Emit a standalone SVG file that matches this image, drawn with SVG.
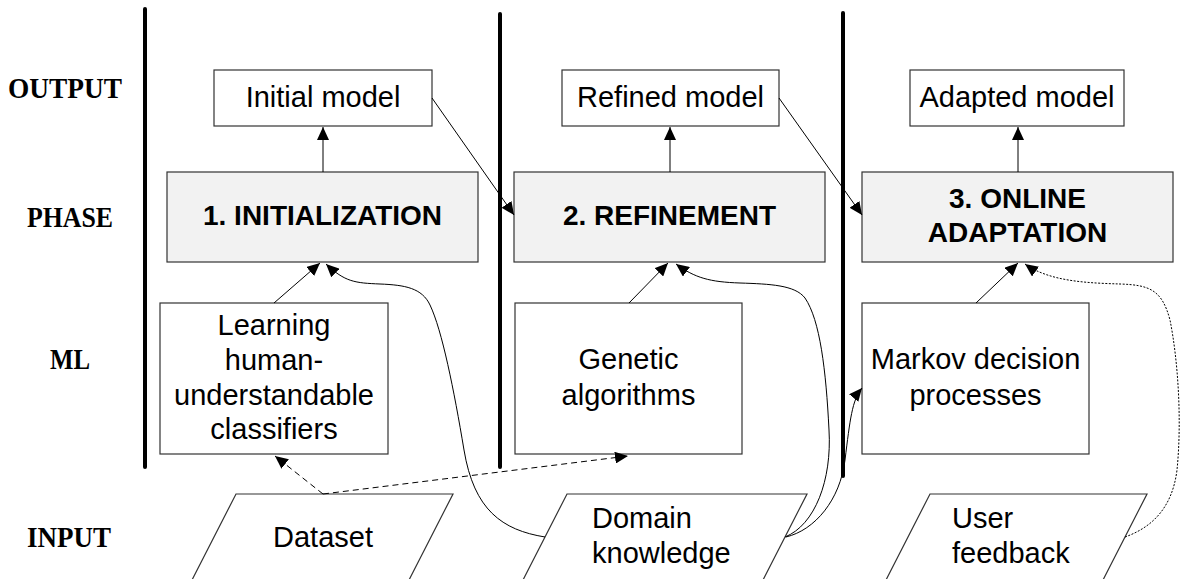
<svg xmlns="http://www.w3.org/2000/svg" width="1191" height="579" viewBox="0 0 1191 579">
<style>
.lane{font-family:"Liberation Serif",serif;font-weight:bold;font-size:29px;fill:#000;text-anchor:middle}
.t{font-family:"Liberation Sans",Arial,sans-serif;font-size:29px;fill:#000;text-anchor:middle}
.tl{font-family:"Liberation Sans",Arial,sans-serif;font-size:29px;fill:#000;text-anchor:start}
.b{font-family:"Liberation Sans",Arial,sans-serif;font-size:28px;font-weight:bold;fill:#000;text-anchor:middle}
.box{fill:#fff;stroke:#333;stroke-width:1.2}
.phase{fill:#f2f2f2;stroke:#333;stroke-width:1.2}
.sep{stroke:#000;stroke-width:4;stroke-linecap:round;fill:none}
.c{stroke:#000;stroke-width:1;fill:none}
.dash{stroke-dasharray:6,4}
.dot{stroke-dasharray:2,1.5}
</style>
<defs>
<marker id="ah" markerUnits="userSpaceOnUse" markerWidth="13" markerHeight="12" refX="13" refY="6" orient="auto" viewBox="0 0 13 12">
<path d="M0,0 L13,6 L0,12 z" fill="#000"/>
</marker>
</defs>
<rect width="1191" height="579" fill="#fff"/>

<g id="lanes">
<text class="lane" x="65" y="98" textLength="114" lengthAdjust="spacingAndGlyphs">OUTPUT</text>
<text class="lane" x="70" y="227" textLength="86" lengthAdjust="spacingAndGlyphs">PHASE</text>
<text class="lane" x="70" y="369" textLength="40" lengthAdjust="spacingAndGlyphs">ML</text>
<text class="lane" x="69" y="547" textLength="84" lengthAdjust="spacingAndGlyphs">INPUT</text>
<line class="sep" x1="145" y1="9" x2="145" y2="467"/>
<line class="sep" x1="500" y1="14" x2="500" y2="467"/>
<line class="sep" x1="843" y1="13" x2="843" y2="476"/>
</g>

<g id="input-dataset">
<path class="box" d="M192,580 L236,494 L453,494 L409,580"/>
<text class="t" x="323" y="547">Dataset</text>
</g>
<g id="input-domain">
<path class="box" d="M523,580 L567,494 L807,494 L763,580"/>
<text class="tl" x="592" y="528">Domain</text>
<text class="tl" x="592" y="563">knowledge</text>
</g>
<g id="input-user">
<path class="box" d="M886,580 L930,494 L1147,494 L1103,580"/>
<text class="tl" x="952" y="528">User</text>
<text class="tl" x="952" y="563">feedback</text>
</g>

<g id="out-initial">
<rect class="box" x="214" y="70" width="218" height="56"/>
<text class="t" x="323" y="107">Initial model</text>
</g>
<g id="out-refined">
<rect class="box" x="562" y="70" width="217" height="56"/>
<text class="t" x="670.5" y="107">Refined model</text>
</g>
<g id="out-adapted">
<rect class="box" x="910" y="70" width="214" height="56"/>
<text class="t" x="1017" y="107">Adapted model</text>
</g>

<g id="phase-init">
<rect class="phase" x="167" y="172" width="311" height="90"/>
<text class="b" x="322.5" y="225">1. INITIALIZATION</text>
</g>
<g id="phase-refine">
<rect class="phase" x="514" y="172" width="311" height="90"/>
<text class="b" x="669.5" y="225">2. REFINEMENT</text>
</g>
<g id="phase-online">
<rect class="phase" x="862" y="172" width="311" height="90"/>
<text class="b" x="1017.5" y="208">3. ONLINE</text>
<text class="b" x="1017.5" y="242">ADAPTATION</text>
</g>

<g id="ml-learning">
<rect class="box" x="160" y="303" width="228" height="151"/>
<text class="t" x="274" y="335">Learning</text>
<text class="t" x="274" y="370">human-</text>
<text class="t" x="274" y="405">understandable</text>
<text class="t" x="274" y="439">classifiers</text>
</g>
<g id="ml-genetic">
<rect class="box" x="515" y="303" width="227" height="151"/>
<text class="t" x="628.5" y="369">Genetic</text>
<text class="t" x="628.5" y="405">algorithms</text>
</g>
<g id="ml-markov">
<rect class="box" x="862" y="303" width="227" height="151"/>
<text class="t" x="975.5" y="369">Markov decision</text>
<text class="t" x="975.5" y="405">processes</text>
</g>

<g id="connectors">
<line class="c" x1="323" y1="172" x2="323" y2="127" marker-end="url(#ah)"/>
<line class="c" x1="670" y1="172" x2="670" y2="127" marker-end="url(#ah)"/>
<line class="c" x1="1018" y1="172" x2="1018" y2="127" marker-end="url(#ah)"/>
<line class="c" x1="432" y1="98" x2="514" y2="215" marker-end="url(#ah)"/>
<line class="c" x1="779" y1="98" x2="862" y2="215" marker-end="url(#ah)"/>
<line class="c" x1="274" y1="303" x2="320" y2="263" marker-end="url(#ah)"/>
<line class="c" x1="629" y1="303" x2="668" y2="263" marker-end="url(#ah)"/>
<line class="c" x1="976" y1="303" x2="1018" y2="263" marker-end="url(#ah)"/>
<path class="c" d="M545,537 C502,530 474,510 464,450 C454,390 442,330 430,305 C422,288 405,285 380,284 C355,283 345,282 326,264" marker-end="url(#ah)"/>
<path class="c" d="M785,537 C815,525 832,480 829,430 C826,370 820,320 805,298 C795,285 770,284 740,283 C710,282 695,278 676,264" marker-end="url(#ah)"/>
<path class="c" d="M786,537 C815,530 840,500 845,460 C850,420 852,400 862,388" marker-end="url(#ah)"/>
<path class="c dot" d="M1125,537 C1150,528 1172,510 1177,470 C1182,420 1178,360 1170,320 C1162,290 1150,285 1120,284 C1090,283 1050,282 1025,264" marker-end="url(#ah)"/>
<line class="c dash" x1="323" y1="494" x2="275" y2="456" marker-end="url(#ah)"/>
<line class="c dash" x1="323" y1="494" x2="628" y2="456" marker-end="url(#ah)"/>
</g>
</svg>
